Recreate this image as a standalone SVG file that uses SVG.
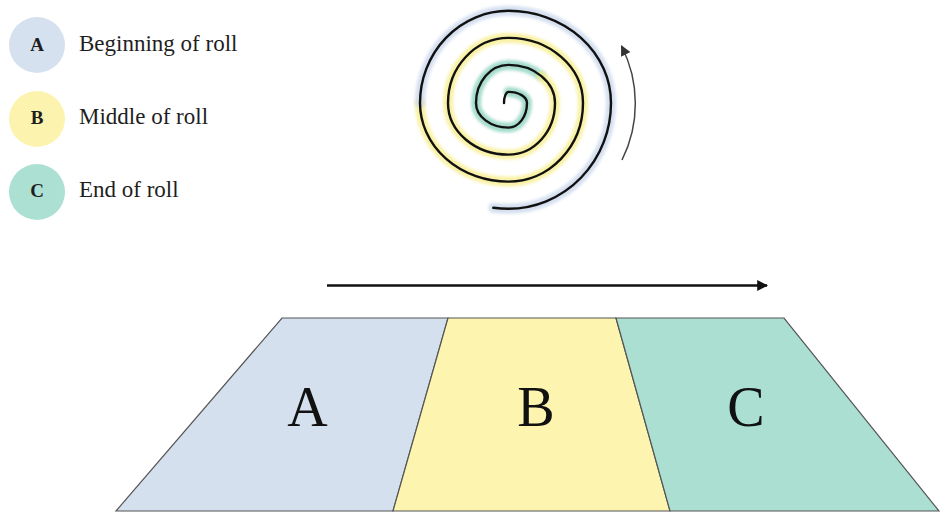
<svg xmlns="http://www.w3.org/2000/svg" width="940" height="513" viewBox="0 0 940 513">
  <style>
    .lbl { font-family: "Liberation Serif", "Times New Roman", serif; fill: #1e1e1e; }
    .legtxt { font-size: 23px; }
    .legltr { font-size: 19px; font-weight: bold; text-anchor: middle; }
    .big { font-size: 56px; text-anchor: middle; fill: #111; }
    .band { stroke: #555; stroke-width: 1.2; stroke-linejoin: miter; }
    .glow { fill: none; stroke-width: 10; stroke-linecap: round; opacity: 0.8; filter: url(#soft); }
    .coil { fill: none; stroke: #111; stroke-width: 2.4; stroke-linecap: round; }
  </style>
  <defs>
    <filter id="soft" x="-10%" y="-10%" width="120%" height="120%">
      <feGaussianBlur stdDeviation="1.7"/>
    </filter>
    <marker id="headBlack" viewBox="0 0 10 10" refX="9" refY="5" markerWidth="4.2" markerHeight="4.2" orient="auto" markerUnits="strokeWidth">
      <path d="M0,0 L10,5 L0,10 z" fill="#111"/>
    </marker>
    <marker id="headGray" viewBox="0 0 10 10" refX="9" refY="5" markerWidth="7" markerHeight="7" orient="auto" markerUnits="strokeWidth">
      <path d="M0,0 L10,5 L0,10 z" fill="#333"/>
    </marker>
  </defs>
  <rect width="940" height="513" fill="#ffffff"/>

  <g id="legend-a">
    <circle cx="37" cy="45" r="28" fill="#d6e1ef"/>
    <text class="lbl legltr" x="37" y="51">A</text>
    <text class="lbl legtxt" x="79" y="51">Beginning of roll</text>
  </g>
  <g id="legend-b">
    <circle cx="37" cy="119" r="28" fill="#fcf4ae"/>
    <text class="lbl legltr" x="37" y="124">B</text>
    <text class="lbl legtxt" x="79" y="124">Middle of roll</text>
  </g>
  <g id="legend-c">
    <circle cx="37" cy="192" r="28" fill="#abe0d3"/>
    <text class="lbl legltr" x="37" y="197">C</text>
    <text class="lbl legtxt" x="79" y="197">End of roll</text>
  </g>

  <g id="spiral">
    <path class="glow" stroke="#8ed3bf" d="M508.5,91.9 A18.5 11.1 0 0 1 527,103 A18.5 24.6 0 0 1 508.5,127.6 A32.5 24.6 0 0 1 476,103 A32.5 38.1 0 0 1 508.5,64.9 A46.5 38.1 0 0 1 541.4,76.1"/>
    <path class="glow" stroke="#f7ee8e" d="M541.4,76.1 A46.5 38.1 0 0 1 555,103 A46.5 51.6 0 0 1 508.5,154.6 A60.5 51.6 0 0 1 448,103 A60.5 65.1 0 0 1 508.5,37.9 A74.5 65.1 0 0 1 583,103 A74.5 78.6 0 0 1 508.5,181.6 A88.5 78.6 0 0 1 420,103"/>
    <path class="glow" stroke="#cbd8ec" d="M420,103 A88.5 92.2 0 0 1 508.5,10.8 A102.5 92.2 0 0 1 611,103 A102.5 105.7 0 0 1 508.5,208.7 A116.5 105.7 0 0 1 493.3,207.8"/>
    <path class="coil" d="M504,103 A4.5 11.1 0 0 1 508.5,91.9 A18.5 11.1 0 0 1 527,103 A18.5 24.6 0 0 1 508.5,127.6 A32.5 24.6 0 0 1 476,103 A32.5 38.1 0 0 1 508.5,64.9 A46.5 38.1 0 0 1 555,103 A46.5 51.6 0 0 1 508.5,154.6 A60.5 51.6 0 0 1 448,103 A60.5 65.1 0 0 1 508.5,37.9 A74.5 65.1 0 0 1 583,103 A74.5 78.6 0 0 1 508.5,181.6 A88.5 78.6 0 0 1 420,103 A88.5 92.2 0 0 1 508.5,10.8 A102.5 92.2 0 0 1 611,103 A102.5 105.7 0 0 1 508.5,208.7 A116.5 105.7 0 0 1 493.3,207.8"/>
  </g>

  <g id="band-a">
    <polygon class="band" points="282,318 448,318 393,511 116,511" fill="#d4e0ee"/>
    <text class="lbl big" x="307.5" y="426">A</text>
  </g>
  <g id="band-b">
    <polygon class="band" points="448,318 616,318 670,511 393,511" fill="#fdf4af"/>
    <text class="lbl big" x="536" y="426">B</text>
  </g>
  <g id="band-c">
    <polygon class="band" points="616,318 784,318 939,511 670,511" fill="#aadfd2"/>
    <text class="lbl big" x="746" y="426">C</text>
  </g>

  <g id="connectors">
    <path d="M622,160 A126.5 126.5 0 0 0 621.5,46" fill="none" stroke="#444" stroke-width="1.5" marker-end="url(#headGray)"/>
    <line x1="327" y1="285.5" x2="767" y2="285.5" stroke="#111" stroke-width="2.6" marker-end="url(#headBlack)"/>
  </g>
</svg>
